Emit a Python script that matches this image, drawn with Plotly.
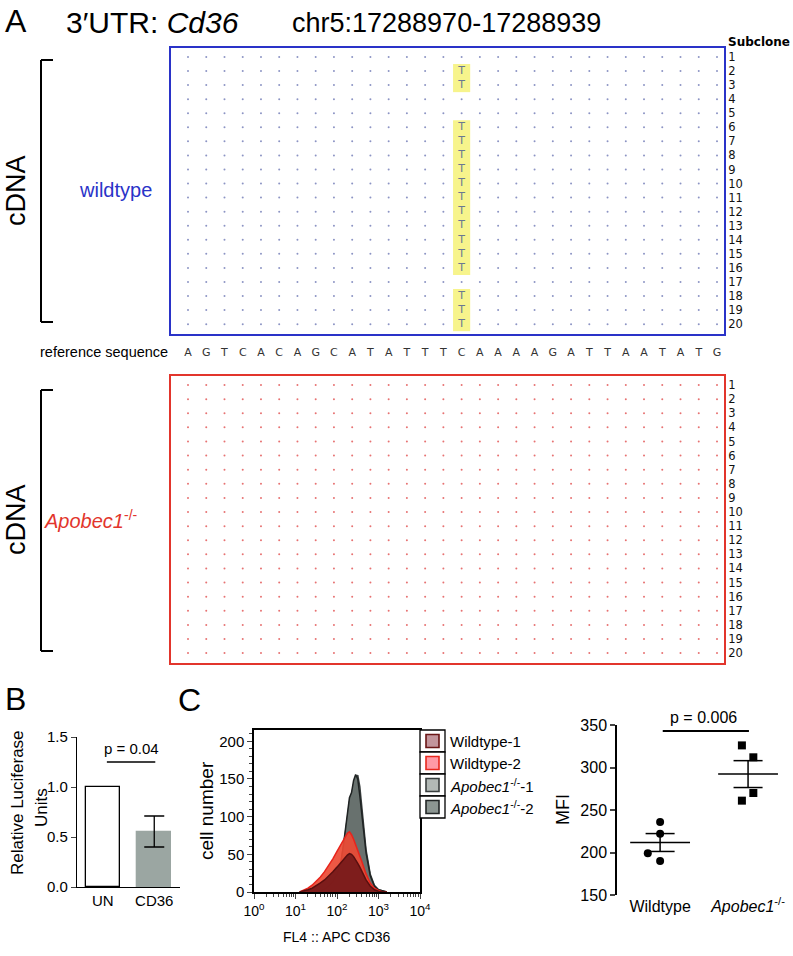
import numpy as np
import plotly.graph_objects as go

W, H = 793, 956

# ---------------- data ----------------
ref_seq = list("AGTCACAGCATATTTCAAAAGATTAATATG")
subclones = list(range(1, 21))
edit_position = 16
edit_base = "T"
wt_edited = [2, 3, 6, 7, 8, 9, 10, 11, 12, 13, 14, 15, 16, 18, 19, 20]
ko_edited = []

luc_cats = ["UN", "CD36"]
luc_mean = [1.0, 0.555]
luc_sem = [0.0, 0.155]
luc_p = "p = 0.04"
luc_p_level = 1.25

fl4_log = [1.1, 1.2, 1.3, 1.4, 1.5, 1.6, 1.7, 1.8, 1.9, 2.0, 2.1, 2.15, 2.2, 2.25,
           2.3, 2.35, 2.4, 2.45, 2.5, 2.55, 2.6, 2.65, 2.7, 2.8, 2.9, 3.0, 3.1, 3.2]
hist_ko2 = [0, 0, 0, 0, 0, 2, 4, 8, 14, 24, 42, 60, 82, 102, 125, 132, 148, 156, 150, 128, 100, 75, 52, 22, 8, 3, 1, 0]
hist_ko1 = [0, 0, 0, 0, 0, 1, 3, 7, 13, 22, 40, 57, 78, 98, 120, 128, 143, 152, 155, 140, 112, 82, 56, 24, 9, 3, 1, 0]
hist_wt2 = [0, 2, 5, 9, 14, 20, 27, 35, 44, 54, 64, 69, 74, 78, 80, 76, 70, 63, 56, 48, 40, 32, 24, 12, 5, 2, 0, 0]
hist_wt1 = [0, 1, 3, 5, 8, 12, 16, 21, 27, 33, 40, 43, 46, 49, 51, 50, 47, 43, 38, 33, 27, 21, 16, 8, 3, 1, 0, 0]
hist_names = ["Wildtype-1", "Wildtype-2", "<i>Apobec1</i><sup>-/-</sup>-1", "<i>Apobec1</i><sup>-/-</sup>-2"]

mfi_cats = ["Wildtype", "<i>Apobec1</i><sup>-/-</sup>"]
mfi_wt = [236, 222, 199, 190]
mfi_ko = [326, 312, 270, 261]
mfi_p = "p = 0.006"
mfi_p_level = 343

# ---------------- styling ----------------
FA = "Liberation Sans, Arial, sans-serif"
FV = "DejaVu Sans, Verdana, sans-serif"
BLUE = "#2a33c8"
RED = "#e2352c"


def px(x):
    return x / W


def py(y):
    return 1 - y / H


def dom(box):
    x0, y0, x1, y1 = box
    return [px(x0), px(x1)], [py(y1), py(y0)]


BOX_WT = (171, 48, 724, 334)
BOX_KO = (171, 376, 724, 663)
REF_ROW = (171, 342, 724, 364)
B_AX = (77, 737, 180, 887)
HIST = (254, 730, 420, 892)
MFI = (617, 725, 785, 895)

ncol = len(ref_seq)
col_step = (717 - 188) / (ncol - 1)
xr_grid = [1 - (188 - 171) / col_step, ncol + (724 - 717) / col_step]
yr_grid = [20.7, 0.36]

fig = go.Figure()
shapes = []
ann = []


def grid(edited, xa, ya, dot_color, txt_color):
    dx, dy, tx, ty = [], [], [], []
    for r in subclones:
        for c in range(1, ncol + 1):
            if c == edit_position and r in edited:
                tx.append(c); ty.append(r)
            else:
                dx.append(c); dy.append(r)
    fig.add_trace(go.Scatter(x=dx, y=dy, mode="markers", xaxis=xa, yaxis=ya,
                             marker=dict(size=2, color=dot_color), hoverinfo="skip",
                             showlegend=False))
    if tx:
        fig.add_trace(go.Scatter(x=tx, y=ty, mode="text", text=[edit_base] * len(tx),
                                 xaxis=xa, yaxis=ya, textfont=dict(family=FV, size=11, color=txt_color),
                                 hoverinfo="skip", showlegend=False))
        runs = []
        for r in sorted(edited):
            if runs and r == runs[-1][1] + 1:
                runs[-1][1] = r
            else:
                runs.append([r, r])
        for a, b in runs:
            shapes.append(dict(type="rect", xref=xa, yref=ya, x0=edit_position - 0.47,
                               x1=edit_position + 0.47, y0=a - 0.5, y1=b + 0.5,
                               fillcolor="#f7f48c", line=dict(width=0), layer="below"))


grid(wt_edited, "x", "y", "#8c94c4", "#6a7892")
grid(ko_edited, "x2", "y2", "#e77272", "#6a7892")

for i, (box, col) in enumerate([(BOX_WT, BLUE), (BOX_KO, RED)]):
    xd, yd = dom(box)
    sfx = "" if i == 0 else "2"
    fig.layout["xaxis" + sfx] = dict(domain=xd, range=xr_grid, showline=True, mirror=True,
                                    linecolor=col, linewidth=2, showgrid=False, zeroline=False,
                                    showticklabels=False, ticks="", anchor="y" + sfx, automargin=False)
    fig.layout["yaxis" + sfx] = dict(domain=yd, range=yr_grid, showline=True, mirror=True,
                                    linecolor=col, linewidth=2, showgrid=False, zeroline=False,
                                    side="right", tickvals=subclones, ticktext=[str(s) for s in subclones],
                                    ticks="", tickfont=dict(family=FV, size=11.5, color="#111"),
                                    anchor="x" + sfx, automargin=False)

# reference sequence row
xd, yd = dom(REF_ROW)
fig.add_trace(go.Scatter(x=list(range(1, ncol + 1)), y=[0.5] * ncol, mode="text", text=ref_seq,
                         xaxis="x3", yaxis="y3", textfont=dict(family=FV, size=11, color="#333"),
                         hoverinfo="skip", showlegend=False))
fig.layout["xaxis3"] = dict(domain=xd, range=xr_grid, visible=False, anchor="y3", automargin=False)
fig.layout["yaxis3"] = dict(domain=yd, range=[0, 1], visible=False, anchor="x3", automargin=False)

# ---------- Panel B ----------
xd, yd = dom(B_AX)
fig.add_trace(go.Bar(x=[0, 1], y=luc_mean, width=0.66, xaxis="x4", yaxis="y4",
                     marker=dict(color=["white", "#9ba6a2"], line=dict(color=["black", "#9ba6a2"], width=1.3)),
                     showlegend=False, hoverinfo="skip"))
fig.add_trace(go.Scatter(x=[1], y=[luc_mean[1]], mode="markers", marker=dict(size=1, opacity=0),
                         error_y=dict(type="data", array=[luc_sem[1]], color="black", thickness=1.3, width=10),
                         xaxis="x4", yaxis="y4", showlegend=False, hoverinfo="skip"))
fig.layout["xaxis4"] = dict(domain=xd, range=[-0.5, 1.5], tickvals=[0, 1], ticktext=luc_cats,
                            showline=True, linecolor="black", linewidth=1.3, ticks="",
                            tickfont=dict(family=FA, size=15, color="black"), anchor="y4",
                            showgrid=False, zeroline=False, automargin=False)
fig.layout["yaxis4"] = dict(domain=yd, range=[0, 1.5], tickvals=[0, 0.5, 1.0, 1.5], tickformat=".1f",
                            showline=True, linecolor="black", linewidth=1.3, ticks="outside", ticklen=5,
                            tickwidth=1.3, tickfont=dict(family=FA, size=15, color="black"), anchor="x4",
                            showgrid=False, zeroline=False, automargin=False)


def to_paper(v, rng, box):
    x0, y0, x1, y1 = box
    return py(y1 - (v - rng[0]) / (rng[1] - rng[0]) * (y1 - y0))


def x_to_paper(v, rng, box):
    x0, y0, x1, y1 = box
    return px(x0 + (v - rng[0]) / (rng[1] - rng[0]) * (x1 - x0))


yl = to_paper(luc_p_level, [0, 1.5], B_AX)
shapes.append(dict(type="line", xref="paper", yref="paper", x0=x_to_paper(0.08, [-0.5, 1.5], B_AX),
                   x1=x_to_paper(1.02, [-0.5, 1.5], B_AX), y0=yl, y1=yl, line=dict(color="black", width=1.5)))
ann.append(dict(text=luc_p, x=x_to_paper(0.55, [-0.5, 1.5], B_AX), y=yl, yanchor="bottom", yshift=3,
                font=dict(family=FA, size=15)))
ann.append(dict(text="Relative Luciferase", x=px(17), y=py(803), textangle=-90, font=dict(family=FA, size=17)))
ann.append(dict(text="Units", x=px(41), y=py(808), textangle=-90, font=dict(family=FA, size=17)))

# ---------- Panel C histogram ----------
xd, yd = dom(HIST)
fl4 = [10 ** v for v in fl4_log]
hist_series = [
    (hist_ko1, "rgba(168,175,172,1)", "#3a3f3f"),
    (hist_ko2, "rgba(104,113,110,1)", "#1f2323"),
    (hist_wt2, "rgba(236,74,52,0.92)", "#e8241c"),
    (hist_wt1, "rgba(120,26,26,0.95)", "#5a0f0f"),
]
for ys, fc, lc in hist_series:
    fig.add_trace(go.Scatter(x=fl4, y=ys, mode="lines", fill="tozeroy", fillcolor=fc,
                             line=dict(color=lc, width=1.5), xaxis="x5", yaxis="y5",
                             showlegend=False, hoverinfo="skip"))
fig.layout["xaxis5"] = dict(domain=xd, type="log", range=[0, 4], showline=True, mirror=True,
                            linecolor="black", linewidth=1.5, ticks="outside", ticklen=5,
                            tickvals=[1, 10, 100, 1000, 10000],
                            ticktext=["10<sup>0</sup>", "10<sup>1</sup>", "10<sup>2</sup>", "10<sup>3</sup>", "10<sup>4</sup>"],
                            minor=dict(ticks="outside", ticklen=3, dtick="D1"),
                            tickfont=dict(family=FA, size=14, color="black"), anchor="y5",
                            showgrid=False, zeroline=False, automargin=False)
fig.layout["yaxis5"] = dict(domain=yd, range=[0, 215], showline=True, mirror=True,
                            linecolor="black", linewidth=1.5, ticks="outside", ticklen=5,
                            tickvals=[0, 50, 100, 150, 200], minor=dict(ticks="outside", ticklen=3, dtick=10),
                            tickfont=dict(family=FA, size=15, color="black"), anchor="x5",
                            showgrid=False, zeroline=False, automargin=False)
ann.append(dict(text="cell number", x=px(206), y=py(811), textangle=-90, font=dict(family=FA, size=19)))
ann.append(dict(text="FL4 :: APC CD36", x=px(337), y=py(937), font=dict(family=FA, size=14)))

leg_fill = ["#c3959c", "#ff9aa6", "#b2b9b6", "#8c9692"]
leg_line = ["#6a1515", "#e8281e", "#3a3f3f", "#232727"]
row_h = 22
for i, name in enumerate(hist_names):
    top = 730 + i * row_h
    shapes.append(dict(type="rect", xref="paper", yref="paper", x0=px(420), x1=px(445),
                       y0=py(top + row_h), y1=py(top), line=dict(color="black", width=1.3),
                       fillcolor="white"))
    cy = top + row_h / 2
    shapes.append(dict(type="rect", xref="paper", yref="paper", x0=px(426), x1=px(439),
                       y0=py(cy + 6.5), y1=py(cy - 6.5), line=dict(color=leg_line[i], width=1.6),
                       fillcolor=leg_fill[i]))
    ann.append(dict(text=name, x=px(448), y=py(cy), xanchor="left", font=dict(family=FA, size=15)))

# ---------- Panel C MFI ----------
xd, yd = dom(MFI)
groups = [mfi_wt, mfi_ko]
symbols = ["circle", "square"]
jit = [[0.0, 0.0, -0.14, 0.0], [-0.07, 0.06, 0.06, -0.07]]
for gi, vals in enumerate(groups):
    fig.add_trace(go.Scatter(x=[gi + j for j in jit[gi]], y=vals, mode="markers",
                             marker=dict(symbol=symbols[gi], size=8, color="black"),
                             xaxis="x6", yaxis="y6", showlegend=False, hoverinfo="skip"))
    m = float(np.mean(vals))
    s = float(np.std(vals, ddof=1) / np.sqrt(len(vals)))
    fig.add_trace(go.Scatter(x=[gi - 0.34, gi + 0.34, None, gi, gi, None, gi - 0.165, gi + 0.165, None,
                                gi - 0.165, gi + 0.165],
                             y=[m, m, None, m - s, m + s, None, m + s, m + s, None, m - s, m - s],
                             mode="lines", line=dict(color="black", width=1.5), xaxis="x6", yaxis="y6",
                             showlegend=False, hoverinfo="skip"))
fig.layout["xaxis6"] = dict(domain=xd, range=[-0.49, 1.42], tickvals=[0, 1], ticktext=mfi_cats,
                            showline=False, ticks="", tickfont=dict(family=FA, size=16, color="black"),
                            anchor="y6", showgrid=False, zeroline=False, automargin=False)
fig.layout["yaxis6"] = dict(domain=yd, range=[150, 350], tickvals=[150, 200, 250, 300, 350],
                            showline=True, linecolor="black", linewidth=1.5, ticks="outside", ticklen=5,
                            tickwidth=1.5, tickfont=dict(family=FA, size=16, color="black"), anchor="x6",
                            showgrid=False, zeroline=False, automargin=False)
yl = to_paper(mfi_p_level, [150, 350], MFI)
shapes.append(dict(type="line", xref="paper", yref="paper", x0=x_to_paper(0.03, [-0.49, 1.42], MFI),
                   x1=x_to_paper(1.01, [-0.49, 1.42], MFI), y0=yl, y1=yl, line=dict(color="black", width=2)))
ann.append(dict(text=mfi_p, x=x_to_paper(0.49, [-0.49, 1.42], MFI), y=yl, yanchor="bottom", yshift=3,
                font=dict(family=FA, size=16)))
ann.append(dict(text="MFI", x=px(563), y=py(810), textangle=-90, font=dict(family=FA, size=18)))

# ---------- Panel A texts ----------
ann += [
    dict(text="A", x=px(3), y=py(21), xanchor="left", font=dict(family=FA, size=32)),
    dict(text="3′UTR: <i>Cd36</i>", x=px(64), y=py(23), xanchor="left", font=dict(family=FA, size=30)),
    dict(text="chr5:17288970-17288939", x=px(290), y=py(23), xanchor="left", font=dict(family=FA, size=27)),
    dict(text="<b>Subclone</b>", x=px(726), y=py(42), xanchor="left", font=dict(family=FV, size=12)),
    dict(text="reference sequence", x=px(104), y=py(352), font=dict(family=FA, size=14.5)),
    dict(text="cDNA", x=px(16), y=py(191), textangle=-90, font=dict(family=FA, size=27)),
    dict(text="wildtype", x=px(115), y=py(190), font=dict(family=FA, size=20, color=BLUE)),
    dict(text="cDNA", x=px(16), y=py(520), textangle=-90, font=dict(family=FA, size=27)),
    dict(text="<i>Apobec1</i><sup>-/-</sup>", x=px(91), y=py(519), font=dict(family=FA, size=20, color=RED)),
    dict(text="B", x=px(3), y=py(699), xanchor="left", font=dict(family=FA, size=32)),
    dict(text="C", x=px(176), y=py(700), xanchor="left", font=dict(family=FA, size=32)),
]
for a in ann:
    a.setdefault("xref", "paper")
    a.setdefault("yref", "paper")
    a.setdefault("showarrow", False)
    a.setdefault("xanchor", "center")
    a.setdefault("yanchor", "middle")

for top, bot in [(60, 322), (390, 651)]:
    for seg in [(41, top, 53, top), (41, top, 41, bot), (41, bot, 53, bot)]:
        shapes.append(dict(type="line", xref="paper", yref="paper", x0=px(seg[0]), y0=py(seg[1]),
                           x1=px(seg[2]), y1=py(seg[3]), line=dict(color="black", width=2)))

fig.update_layout(template="none", width=W, height=H, margin=dict(l=0, r=0, t=0, b=0, pad=0),
                  paper_bgcolor="white", plot_bgcolor="white", shapes=shapes, annotations=ann,
                  bargap=0, font=dict(family=FA, color="black"), showlegend=False)
fig.write_html("out.html", config={"displayModeBar": False},
               post_script="document.body.style.margin='0px';")
